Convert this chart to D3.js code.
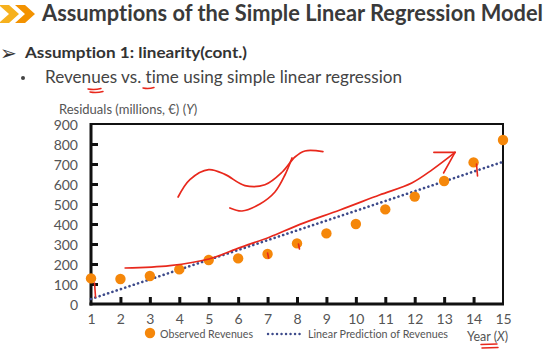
<!DOCTYPE html>
<html><head><meta charset="utf-8">
<script src="https://cdn.jsdelivr.net/npm/d3@7"></script>
<style>
html,body{margin:0;padding:0;background:#fff;}
svg{display:block;}
text{font-family:Lato,"Open Sans",sans-serif;font-variant-ligatures:none;font-feature-settings:"liga" 0;}
</style></head>
<body>
<svg id="c" width="553" height="356"></svg>
<script>
// ---- data ----
const years = [1,2,3,4,5,6,7,8,9,10,11,12,13,14,15];
const observed = [128,125,140,173,220,228,250,303,353,400,473,537,615,708,820];
const predicted = [25,74,123,172,221,270,319,368,417,466,515,564,613,662,711];
const yTicks = [0,100,200,300,400,500,600,700,800,900];
// hand-drawn annotations (year, value)
const annTrend = [[2.16,180],[3.68,192],[5.01,225],[6.06,282],[7.08,335],[8.1,398],[9.46,470],[10.8,545],[11.9,605],[12.6,672],[13.37,758]];
const annWave = [[3.96,535],[4.36,622],[5.0,672],[5.55,648],[6.23,592],[6.91,596],[7.5,660],[7.93,735],[8.27,765],[8.88,762]];
const annWave2 = [[5.72,480],[6.13,465],[6.74,500],[7.25,560],[7.59,645],[7.83,730]];
const annArrow = [[[12.65,758],[13.37,758]],[[13.37,758],[12.98,655]]];
const annResid = [[1.12,105,35],[8.05,300,275],[14.1,700,640],[7.0,255,230]];

const svg = d3.select("#c");
const W=553,H=356;
svg.append("rect").attr("width",W).attr("height",H).attr("fill","#fff");

// header
const chev = (x0)=>[[x0,5],[x0+10,5],[x0+20,14],[x0+10,23],[x0,23],[x0+10,14]];
svg.append("polygon").attr("points",chev(-1).join(" ")).attr("fill","#F6B11E");
svg.append("polygon").attr("points",chev(15).join(" ")).attr("fill","#F39200");
svg.append("text").attr("x",42).attr("y",21).attr("font-size",22).attr("font-weight",700)
  .attr("fill","#3a3a3a").attr("textLength",501).attr("lengthAdjust","spacingAndGlyphs")
  .text("Assumptions of the Simple Linear Regression Model");
svg.append("text").attr("x",0).attr("y",60).attr("font-size",20).attr("fill","#333")
  .style("font-family","DejaVu Sans").text("➢");
svg.append("text").attr("x",25).attr("y",58).attr("font-size",16).attr("font-weight",700)
  .attr("fill","#333").attr("textLength",222).attr("lengthAdjust","spacingAndGlyphs")
  .text("Assumption 1: linearity(cont.)");
svg.append("circle").attr("cx",23).attr("cy",78).attr("r",2).attr("fill","#444");
svg.append("text").attr("x",45).attr("y",83).attr("font-size",16.5)
  .attr("fill","#444").attr("textLength",357).attr("lengthAdjust","spacingAndGlyphs")
  .text("Revenues vs. time using simple linear regression");
// red underlines on text
const red="#E8281C";
[[88,89,101,88.5],[90,92,103,91.5],[143,88,154,87.5]].forEach(d=>{
  svg.append("path").attr("d",`M${d[0]},${d[1]}Q${(d[0]+d[2])/2},${d[1]+1.2} ${d[2]},${d[3]}`)
   .attr("fill","none").attr("stroke",red).attr("stroke-width",1.5).attr("stroke-linecap","round");
});

// chart
const L=91,R=503,T=124,B=304;
const x = d3.scaleLinear().domain([1,15]).range([L,R]);
const y = d3.scaleLinear().domain([0,900]).range([B,T]);

svg.append("text").attr("x",59).attr("y",114).attr("font-size",13).attr("fill","#555")
  .html('Residuals (millions, €) (<tspan font-style="italic">Y</tspan>)');

// frame
svg.append("rect").attr("x",L).attr("y",T).attr("width",R-L).attr("height",B-T)
  .attr("fill","none").attr("stroke","#111").attr("stroke-width",2);

// axes
const gy = svg.append("g").attr("transform",`translate(${L},0)`)
  .call(d3.axisLeft(y).tickValues(yTicks).tickSize(-7).tickPadding(13));
gy.select(".domain").remove();
gy.selectAll(".tick line").attr("stroke","#111").attr("stroke-width",3);
gy.selectAll(".tick text").attr("font-size",14).attr("fill","#555").attr("dy","0.42em")
  .style("font-family","Lato");
gy.selectAll(".tick").filter(d=>d===0||d===900).select("line").remove();

const gx = svg.append("g").attr("transform",`translate(0,${B})`)
  .call(d3.axisBottom(x).tickValues(years).tickSize(-7).tickPadding(10).tickFormat(d3.format("d")));
gx.select(".domain").remove();
gx.selectAll(".tick line").attr("stroke","#111").attr("stroke-width",3);
gx.selectAll(".tick text").attr("font-size",14).attr("fill","#555").style("font-family","Lato");
gx.selectAll(".tick").filter(d=>d===1||d===15).select("line").remove();

svg.append("line").attr("x1",L).attr("x2",L).attr("y1",T-1).attr("y2",B+1.5).attr("stroke","#111").attr("stroke-width",3);
svg.append("line").attr("x1",L-1.5).attr("x2",R+1).attr("y1",B).attr("y2",B).attr("stroke","#111").attr("stroke-width",3);

// regression line
const line = d3.line().x((d,i)=>x(years[i])).y(d=>y(d));
svg.append("path").datum(predicted).attr("d",line).attr("fill","none")
  .attr("stroke","#3E4B8B").attr("stroke-width",2.6).attr("stroke-linecap","round")
  .attr("stroke-dasharray","0.1,4.4");

// observed points
svg.selectAll("circle.obs").data(observed).join("circle").attr("class","obs")
  .attr("cx",(d,i)=>x(years[i])).attr("cy",d=>y(d)).attr("r",5.2).attr("fill","#F5870A");

// annotations
const aline = d3.line().x(d=>x(d[0])).y(d=>y(d[1])).curve(d3.curveCatmullRom);
[annTrend,annWave,annWave2].forEach(a=>{
  svg.append("path").datum(a).attr("d",aline).attr("fill","none").attr("stroke",red)
    .attr("stroke-width",1.7).attr("stroke-linecap","round");
});
annArrow.forEach(a=>{
  svg.append("path").datum(a).attr("d",d3.line().x(d=>x(d[0])).y(d=>y(d[1]))).attr("fill","none")
    .attr("stroke",red).attr("stroke-width",1.6).attr("stroke-linecap","round");
});
annResid.forEach(a=>{
  svg.append("line").attr("x1",x(a[0])).attr("x2",x(a[0])+1).attr("y1",y(a[1])).attr("y2",y(a[2]))
   .attr("stroke",red).attr("stroke-width",1.6).attr("stroke-linecap","round");
});

// legend
svg.append("circle").attr("cx",150).attr("cy",333).attr("r",5.2).attr("fill","#F5870A");
svg.append("text").attr("x",160).attr("y",338).attr("font-size",12).attr("fill","#555")
  .attr("textLength",93).attr("lengthAdjust","spacingAndGlyphs").text("Observed Revenues");
svg.append("line").attr("x1",268).attr("x2",303).attr("y1",334).attr("y2",334)
  .attr("stroke","#3E4B8B").attr("stroke-width",2.4).attr("stroke-linecap","round").attr("stroke-dasharray","0.1,4.4");
svg.append("text").attr("x",308).attr("y",338).attr("font-size",12).attr("fill","#555")
  .attr("textLength",140).attr("lengthAdjust","spacingAndGlyphs").text("Linear Prediction of Revenues");
svg.append("text").attr("x",467).attr("y",341).attr("font-size",12.5).attr("fill","#555")
  .html('Year (<tspan font-style="italic">X</tspan>)');
[[481,344.5,497,344],[482,348,498,347.5]].forEach(d=>{
  svg.append("line").attr("x1",d[0]).attr("y1",d[1]).attr("x2",d[2]).attr("y2",d[3])
   .attr("stroke",red).attr("stroke-width",1.5).attr("stroke-linecap","round");
});
</script>
</body></html>
